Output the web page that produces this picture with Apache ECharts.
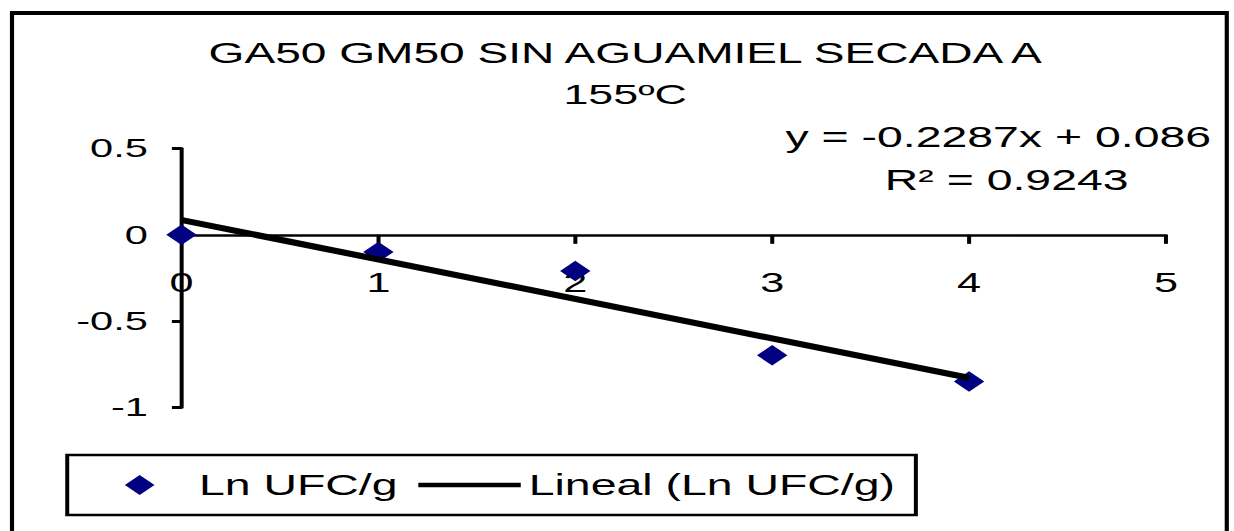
<!DOCTYPE html>
<html>
<head>
<meta charset="utf-8">
<script src="https://cdn.jsdelivr.net/npm/echarts@6/dist/echarts.min.js"></script>
<style>
  html, body { margin: 0; padding: 0; background: #fff; overflow: hidden; }
  #wrap { width: 1234px; height: 531px; overflow: hidden; }
  #chart { width: 771px; height: 531px; transform: scaleX(1.6005); transform-origin: 0 0; }
</style>
</head>
<body>
<div id="wrap"><div id="chart"></div></div>
<script>
// ---- data ----
const titleLines = ['GA50 GM50 SIN AGUAMIEL SECADA A', '155ºC'];
const timeX = [0, 1, 2, 3, 4];
const lnUfc = [0, -0.099, -0.209, -0.698, -0.849];
const trendX = [0, 4];
const trendY = [0.086, -0.8288];
const equationText = 'y = -0.2287x + 0.086';
const r2Text = 'R² = 0.9243';
const seriesNames = ['Ln UFC/g', 'Lineal (Ln UFC/g)'];
const xTicks = { min: 0, max: 5, interval: 1 };
const yTicks = { min: -1, max: 0.5, interval: 0.5 };

const FONT = "'Liberation Sans', Arial, sans-serif";
const GRID = { left: 113.4, right: 42.5, top: 148.5, bottom: 123.5 };
const H = 531;
// pixel offset that places the x axis on y = 0 (layout only)
const plotH = H - GRID.top - GRID.bottom;
const zeroOffset = -plotH * (0 - yTicks.min) / (yTicks.max - yTicks.min);

const chart = echarts.init(document.getElementById('chart'), null, { renderer: 'svg' });

chart.setOption({
  backgroundColor: '#fff',
  animation: false,
  grid: GRID,
  xAxis: {
    type: 'value', min: xTicks.min, max: xTicks.max, interval: xTicks.interval,
    position: 'bottom', offset: zeroOffset,
    axisLine: { show: true, onZero: false, lineStyle: { color: '#000', width: 2.5 } },
    axisTick: { show: true, length: 9, lineStyle: { color: '#000', width: 2.5 } },
    axisLabel: { color: '#000', fontSize: 27, fontFamily: FONT, margin: 34, showMinLabel: true, showMaxLabel: true },
    splitLine: { show: false }
  },
  yAxis: {
    type: 'value', min: yTicks.min, max: yTicks.max, interval: yTicks.interval,
    axisLine: { show: true, onZero: false, lineStyle: { color: '#000', width: 2.5 } },
    axisTick: { show: true, length: 6, lineStyle: { color: '#000', width: 3 } },
    axisLabel: { color: '#000', fontSize: 26, fontFamily: FONT, margin: 21 },
    splitLine: { show: false }
  },
  legend: {
    left: 42, top: 455,
    orient: 'horizontal',
    itemWidth: 64, itemHeight: 20, itemGap: 13,
    padding: [15, 13, 15, 36],
    borderColor: '#000', borderWidth: 2.5,
    symbolKeepAspect: true,
    textStyle: { fontSize: 29, color: '#000', fontFamily: FONT, lineHeight: 30 },
    data: [
      { name: seriesNames[0], icon: 'path://M0,-10.25L9.5,0L0,10.25L-9.5,0Z', itemStyle: { color: '#000080', opacity: 1 } },
      { name: seriesNames[1], icon: 'path://M0,0L64,0L64,4.5L0,4.5Z', itemStyle: { color: '#000', opacity: 1 } }
    ]
  },
  graphic: [
    { type: 'line', shape: { x1: 7.5, y1: 13, x2: 767, y2: 13 }, style: { stroke: '#000', lineWidth: 4 } },
    { type: 'line', shape: { x1: 7.5, y1: 11, x2: 7.5, y2: 545 }, style: { stroke: '#000', lineWidth: 2.6 } },
    { type: 'line', shape: { x1: 766.5, y1: 11, x2: 766.5, y2: 545 }, style: { stroke: '#000', lineWidth: 2.6 } },
    { type: 'text', x: 390.6, y: 53, style: { text: titleLines[0], fill: '#000', font: '28.8px ' + FONT, textAlign: 'center', textVerticalAlign: 'middle' } },
    { type: 'text', x: 390.6, y: 94, style: { text: titleLines[1], fill: '#000', font: '28px ' + FONT, textAlign: 'center', textVerticalAlign: 'middle' } },
    { type: 'text', x: 623.7, y: 137, style: { text: equationText, fill: '#000', font: '29px ' + FONT, textAlign: 'center', textVerticalAlign: 'middle' } },
    { type: 'text', x: 629, y: 179.5, style: { text: r2Text, fill: '#000', font: '29px ' + FONT, textAlign: 'center', textVerticalAlign: 'middle' } }
  ],
  series: [
    {
      name: seriesNames[0], type: 'scatter', z: 3,
      symbol: 'diamond', symbolSize: [19, 20.5],
      itemStyle: { color: '#000080', opacity: 1 },
      emphasis: { disabled: true },
      data: timeX.map((x, i) => [x, lnUfc[i]])
    },
    {
      name: seriesNames[1], type: 'line', z: 4,
      symbol: 'none', showSymbol: false,
      lineStyle: { color: '#000', width: 6 },
      itemStyle: { color: '#000' },
      emphasis: { disabled: true },
      data: trendX.map((x, i) => [x, trendY[i]])
    }
  ]
});
</script>
</body>
</html>
